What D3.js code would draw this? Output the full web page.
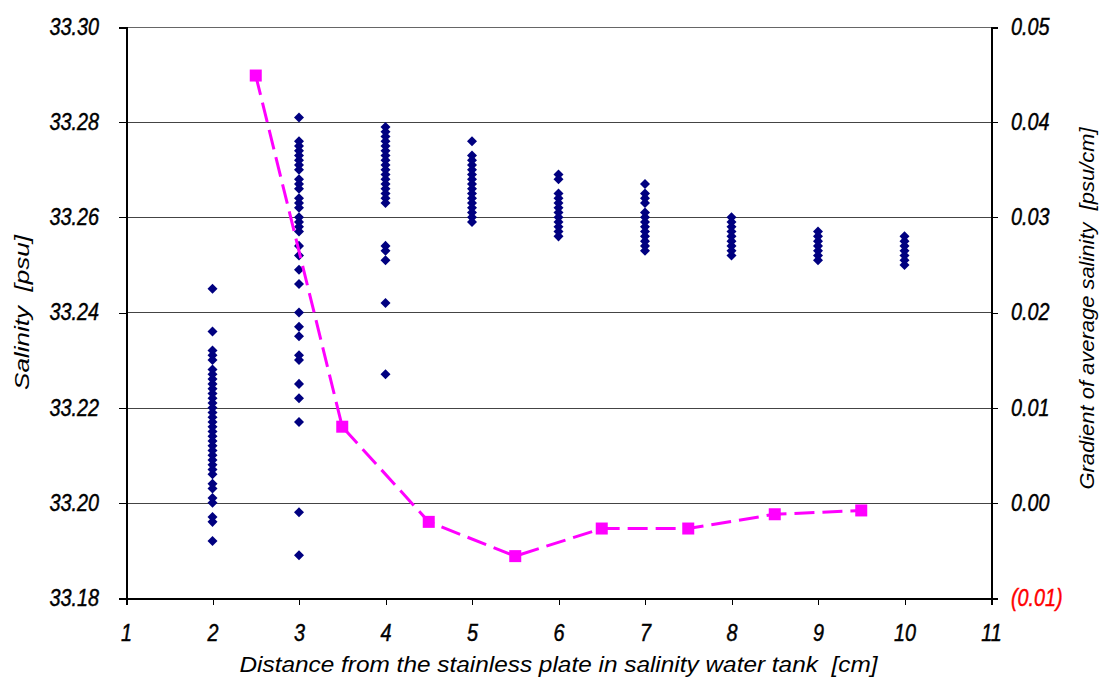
<!DOCTYPE html>
<html>
<head>
<meta charset="utf-8">
<script src="https://cdnjs.cloudflare.com/ajax/libs/d3/7.8.5/d3.min.js"></script>
<style>
  body { margin: 0; background: #fff; }
  svg { display: block; font-family: "Liberation Sans", Arial, sans-serif; font-style: italic; }
  .grid line { stroke: #444; stroke-width: 1; shape-rendering: crispEdges; }
  .axis path, .axis line { stroke: #000; shape-rendering: crispEdges; }
  .axis text { stroke-width: 0.45; }
  .title { white-space: pre; }
</style>
</head>
<body>
<svg id="chart" width="1100" height="678"></svg>
<script>
// measured salinity [psu] at each distance [cm]
var sal2 = [33.245, 33.236, 33.232, 33.231, 33.230, 33.228, 33.227, 33.226, 33.225, 33.224, 33.223,
  33.222, 33.221, 33.220, 33.219, 33.218, 33.217, 33.216, 33.215, 33.214, 33.213, 33.212, 33.211,
  33.210, 33.209, 33.208, 33.207, 33.206, 33.204, 33.203, 33.201, 33.200, 33.197, 33.196, 33.192];
var sal3 = [33.281, 33.276, 33.275, 33.274, 33.273, 33.272, 33.271, 33.270, 33.268, 33.267, 33.266,
  33.264, 33.263, 33.262, 33.260, 33.259, 33.258, 33.257, 33.254, 33.252, 33.249, 33.246, 33.240,
  33.237, 33.235, 33.231, 33.230, 33.225, 33.222, 33.217, 33.198, 33.189];
var sal4 = [33.279, 33.278, 33.277, 33.276, 33.275, 33.274, 33.273, 33.272, 33.271, 33.270, 33.269,
  33.268, 33.267, 33.266, 33.265, 33.264, 33.263, 33.254, 33.253, 33.251, 33.242, 33.227];
var sal5 = [33.276, 33.273, 33.272, 33.271, 33.270, 33.269, 33.268, 33.267, 33.266, 33.265, 33.264,
  33.263, 33.262, 33.261, 33.260, 33.259];
var sal6 = [33.269, 33.268, 33.265, 33.264, 33.263, 33.262, 33.261, 33.260, 33.259, 33.258, 33.257, 33.256];
var sal7 = [33.267, 33.265, 33.264, 33.263, 33.261, 33.260, 33.259, 33.258, 33.257, 33.256, 33.255,
  33.254, 33.253];
var sal8 = [33.260, 33.259, 33.258, 33.257, 33.256, 33.255, 33.254, 33.253, 33.252];
var sal9 = [33.257, 33.256, 33.255, 33.254, 33.253, 33.252, 33.251];
var sal10 = [33.256, 33.255, 33.254, 33.253, 33.252, 33.251, 33.250];

var distances = [2, 3, 4, 5, 6, 7, 8, 9, 10];
var salinityColumns = [sal2, sal3, sal4, sal5, sal6, sal7, sal8, sal9, sal10];

// gradient of average salinity [psu/cm] between neighbouring distances
var gradientX = [2.5, 3.5, 4.5, 5.5, 6.5, 7.5, 8.5, 9.5];
var gradientY = [0.0449, 0.0080, -0.0020, -0.0056, -0.0027, -0.0027, -0.0012, -0.0008];

var xTicks = [1, 2, 3, 4, 5, 6, 7, 8, 9, 10, 11];
var leftTicks = [33.18, 33.20, 33.22, 33.24, 33.26, 33.28, 33.30];
var rightTicks = [-0.01, 0, 0.01, 0.02, 0.03, 0.04, 0.05];

var points = [];
distances.forEach(function(d, i) {
  salinityColumns[i].forEach(function(s) { points.push({ x: d, y: s }); });
});
var gradient = gradientX.map(function(x, i) { return { x: x, y: gradientY[i] }; });

var margin = { top: 27, right: 109, bottom: 80, left: 126 };
var svg = d3.select('#chart');
var width = +svg.attr('width') - margin.left - margin.right;
var height = +svg.attr('height') - margin.top - margin.bottom;

var x = d3.scaleLinear().domain([1, 11]).range([0, width]);
var yLeft = d3.scaleLinear().domain([33.18, 33.30]).range([height, 0]);
var yRight = d3.scaleLinear().domain([-0.01, 0.05]).range([height, 0]);

var g = svg.append('g').attr('transform', 'translate(' + margin.left + ',' + margin.top + ')');

g.append('g').attr('class', 'grid')
  .selectAll('line')
  .data(leftTicks.slice(1, -1))
  .enter().append('line')
  .attr('x1', 0).attr('x2', width)
  .attr('y1', function(d) { return Math.round(yLeft(d)) + 0.5; })
  .attr('y2', function(d) { return Math.round(yLeft(d)) + 0.5; });

// top border of plot
g.append('line')
  .attr('x1', 0).attr('x2', width).attr('y1', 0.5).attr('y2', 0.5)
  .attr('stroke', '#666').attr('shape-rendering', 'crispEdges');

// taller, slightly narrowed tick labels like the original
function styleAxis(axis) {
  axis.attr('font-size', 23).attr('font-family', null);
  axis.select('.domain').attr('stroke-width', 2);
  axis.selectAll('.tick line').attr('stroke', '#555');
  axis.selectAll('.tick text').attr('fill', '#000').attr('stroke', '#000')
    .each(function() {
      var w = this.getComputedTextLength();
      d3.select(this).attr('textLength', w * 0.86).attr('lengthAdjust', 'spacingAndGlyphs');
    });
}

var xAxis = g.append('g').attr('class', 'axis')
  .attr('transform', 'translate(0,' + height + ')')
  .call(d3.axisBottom(x).tickValues(xTicks).tickFormat(d3.format('d')).tickSizeOuter(0).tickSize(7).tickPadding(20));
styleAxis(xAxis);

var leftAxis = g.append('g').attr('class', 'axis')
  .call(d3.axisLeft(yLeft).tickValues(leftTicks).tickFormat(d3.format('.2f')).tickSizeOuter(0).tickSize(7).tickPadding(20));
styleAxis(leftAxis);

var rightAxis = g.append('g').attr('class', 'axis')
  .attr('transform', 'translate(' + width + ',0)')
  .call(d3.axisRight(yRight).tickValues(rightTicks)
    .tickFormat(function(d) { return d < 0 ? '(' + d3.format('.2f')(-d) + ')' : d3.format('.2f')(d); })
    .tickSizeOuter(0).tickSize(7).tickPadding(13));
styleAxis(rightAxis);
rightAxis.selectAll('.tick text')
  .attr('fill', function(d) { return d < 0 ? '#ff0000' : '#000'; })
  .attr('stroke', function(d) { return d < 0 ? '#ff0000' : '#000'; });

// axis titles
svg.append('text').attr('class', 'title')
  .attr('transform', 'translate(29,' + (margin.top + height / 2) + ') rotate(-90)')
  .attr('text-anchor', 'middle').attr('font-size', 21)
  .attr('textLength', 155).attr('lengthAdjust', 'spacingAndGlyphs')
  .text('Salinity  [psu]');

svg.append('text').attr('class', 'title')
  .attr('transform', 'translate(1094,' + (margin.top + height / 2 - 4) + ') rotate(-90)')
  .attr('text-anchor', 'middle').attr('font-size', 20)
  .attr('textLength', 362).attr('lengthAdjust', 'spacingAndGlyphs')
  .text('Gradient of average salinity  [psu/cm]');

svg.append('text').attr('class', 'title')
  .attr('x', margin.left + width / 2).attr('y', 672)
  .attr('text-anchor', 'middle').attr('font-size', 22)
  .attr('textLength', 638).attr('lengthAdjust', 'spacingAndGlyphs')
  .text('Distance from the stainless plate in salinity water tank  [cm]');

// salinity measurements
g.append('g').selectAll('path')
  .data(points)
  .enter().append('path')
  .attr('d', d3.symbol().type(d3.symbolDiamond2).size(64))
  .attr('transform', function(d) { return 'translate(' + x(d.x) + ',' + yLeft(d.y) + ')'; })
  .attr('fill', '#000080');

// gradient line
var line = d3.line()
  .x(function(d) { return x(d.x); })
  .y(function(d) { return yRight(d.y); });

g.append('path')
  .datum(gradient)
  .attr('d', line)
  .attr('fill', 'none')
  .attr('stroke', '#ff00ff')
  .attr('stroke-width', 3)
  .attr('stroke-dasharray', '20,8');

g.append('g').selectAll('rect')
  .data(gradient)
  .enter().append('rect')
  .attr('x', function(d) { return x(d.x) - 6; })
  .attr('y', function(d) { return yRight(d.y) - 6; })
  .attr('width', 12).attr('height', 12)
  .attr('fill', '#ff00ff');
</script>
</body>
</html>
